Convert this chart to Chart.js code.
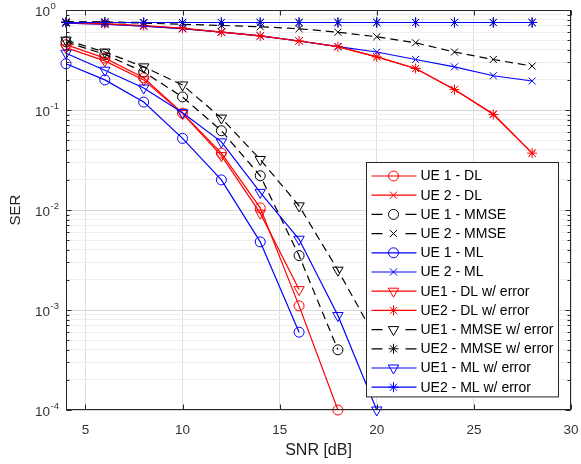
<!DOCTYPE html>
<html>
<head>
<meta charset="utf-8">
<script src="https://cdn.jsdelivr.net/npm/chart.js@4.4.1/dist/chart.umd.min.js"></script>
<style>
  html, body { margin: 0; padding: 0; background: #fff; }
  #serChart { display: block; }
</style>
</head>
<body>
<canvas id="serChart" width="581" height="464"></canvas>
<script>
// SNR points (dB) and tick values
const snrValues = [4, 6, 8, 10, 12, 14, 16, 18, 20, 22, 24, 26, 28];
const xTickValues = [5, 10, 15, 20, 25, 30];
const yDecades = [-4, -3, -2, -1, 0];

// SER per curve (null = no error observed, not plotted on log axis)
const ue1Dl = [0.45, 0.33, 0.21, 0.093, 0.037, 0.0105, 0.0011, 0.0001, null, null, null, null, null];
const ue2Dl = [0.74, 0.72, 0.69, 0.65, 0.60, 0.55, 0.49, 0.43, 0.34, 0.26, 0.16, 0.091, 0.037];
const ue1Mmse = [0.48, 0.36, 0.24, 0.135, 0.062, 0.022, 0.0035, 0.0004, null, null, null, null, null];
const ue2Mmse = [0.76, 0.75, 0.74, 0.72, 0.70, 0.68, 0.65, 0.60, 0.54, 0.47, 0.38, 0.32, 0.275];
const ue1Ml = [0.29, 0.20, 0.12, 0.052, 0.02, 0.0048, 0.0006, null, null, null, null, null, null];
const ue2Ml = [0.74, 0.72, 0.69, 0.65, 0.60, 0.55, 0.49, 0.43, 0.38, 0.32, 0.27, 0.22, 0.195];
const ue1DlErr = [0.42, 0.31, 0.20, 0.092, 0.035, 0.0093, 0.0016, null, null, null, null, null, null];
const ue2DlErr = [0.75, 0.73, 0.70, 0.66, 0.60, 0.55, 0.49, 0.43, 0.34, 0.26, 0.16, 0.09, 0.037];
const ue1MmseErr = [0.50, 0.38, 0.27, 0.178, 0.083, 0.032, 0.011, 0.0025, 0.0005, null, null, null, null];
const ue2MmseErr = [0.76, 0.76, 0.75, 0.75, 0.75, 0.75, 0.75, 0.75, 0.75, 0.75, 0.75, 0.75, 0.75];
const ue1MlErr = [0.37, 0.25, 0.166, 0.094, 0.048, 0.015, 0.0051, 0.00088, 0.0001, null, null, null, null];
const ue2MlErr = [0.75, 0.75, 0.75, 0.75, 0.75, 0.75, 0.75, 0.75, 0.75, 0.75, 0.75, 0.75, 0.75];

const FONT = "'Liberation Sans', Arial, Helvetica, sans-serif";
const RED = "#ff0000";
const BLUE = "#0000ff";
const BLACK = "#000000";

const markers = {
  o: { pointStyle: "circle", radius: 5, rotation: 0 },
  x: { pointStyle: "crossRot", radius: 5, rotation: 0 },
  "*": { pointStyle: "star", radius: 5, rotation: 0 },
  v: { pointStyle: "triangle", radius: 6, rotation: 180 },
};

function makeSeries(label, values, color, marker, dashed) {
  const m = markers[marker];
  return {
    label: label,
    data: snrValues.map(function (x, i) { return { x: x, y: values[i] }; }),
    borderColor: color,
    backgroundColor: "rgba(0,0,0,0)",
    borderWidth: 1.2,
    borderDash: dashed ? [8, 5] : [],
    pointStyle: m.pointStyle,
    pointRadius: m.radius,
    pointRotation: m.rotation,
    pointBorderWidth: 1,
    pointBackgroundColor: "rgba(0,0,0,0)",
    pointBorderColor: color,
    tension: 0,
    spanGaps: false,
    clip: false,
    _marker: marker,
    _dashed: dashed,
  };
}

const datasets = [
  makeSeries("UE 1 - DL", ue1Dl, RED, "o", false),
  makeSeries("UE 2 - DL", ue2Dl, RED, "x", false),
  makeSeries("UE 1 - MMSE", ue1Mmse, BLACK, "o", true),
  makeSeries("UE 2 - MMSE", ue2Mmse, BLACK, "x", true),
  makeSeries("UE 1 - ML", ue1Ml, BLUE, "o", false),
  makeSeries("UE 2 - ML", ue2Ml, BLUE, "x", false),
  makeSeries("UE1 - DL w/ error", ue1DlErr, RED, "v", false),
  makeSeries("UE2 - DL w/ error", ue2DlErr, RED, "*", false),
  makeSeries("UE1 - MMSE w/ error", ue1MmseErr, BLACK, "v", true),
  makeSeries("UE2 - MMSE w/ error", ue2MmseErr, BLACK, "*", true),
  makeSeries("UE1 - ML w/ error", ue1MlErr, BLUE, "v", false),
  makeSeries("UE2 - ML w/ error", ue2MlErr, BLUE, "*", false),
];
// later curves on top, like the original plot
datasets.forEach(function (d, i) { d.order = datasets.length - i; });

function isDecade(v) {
  const p = Math.log10(v);
  return Math.abs(p - Math.round(p)) < 1e-9;
}

function drawMarker(ctx, marker, x, y, color) {
  const m = markers[marker];
  const r = m.radius;
  ctx.save();
  ctx.setLineDash([]);
  ctx.strokeStyle = color;
  ctx.lineWidth = 1;
  ctx.beginPath();
  if (m.pointStyle === "circle") {
    ctx.arc(x, y, r, 0, Math.PI * 2);
  } else if (m.pointStyle === "triangle") {
    let a = m.rotation * Math.PI / 180;
    ctx.moveTo(x + Math.sin(a) * r, y - Math.cos(a) * r);
    for (let k = 0; k < 2; k++) {
      a += Math.PI * 2 / 3;
      ctx.lineTo(x + Math.sin(a) * r, y - Math.cos(a) * r);
    }
    ctx.closePath();
  } else {
    const d = Math.cos(Math.PI / 4) * r;
    ctx.moveTo(x - d, y - d); ctx.lineTo(x + d, y + d);
    ctx.moveTo(x - d, y + d); ctx.lineTo(x + d, y - d);
    if (m.pointStyle === "star") {
      ctx.moveTo(x - r, y); ctx.lineTo(x + r, y);
      ctx.moveTo(x, y - r); ctx.lineTo(x, y + r);
    }
  }
  ctx.stroke();
  ctx.restore();
}

// legend box in the lower right, drawn over the curves with a white fill
const boxLegend = {
  id: "boxLegend",
  afterDatasetsDraw(chart) {
    const ctx = chart.ctx;
    const area = chart.chartArea;
    const x0 = area.right - 12.5;
    const w = 192;
    const left = x0 - w;
    const top = 162.5;
    const rowH = 19.2;
    const h = rowH * datasets.length + 4;
    ctx.save();
    ctx.fillStyle = "#ffffff";
    ctx.fillRect(left, top, w, h);
    ctx.strokeStyle = "#262626";
    ctx.lineWidth = 1;
    ctx.setLineDash([]);
    ctx.strokeRect(left, top, w, h);
    ctx.font = "14px " + FONT;
    ctx.textBaseline = "middle";
    ctx.textAlign = "left";
    chart.data.datasets.forEach(function (d, i) {
      const y = top + 13.5 + i * rowH;
      const sx = left + 5;
      const mx = left + 27;
      const ex = left + 50;
      ctx.strokeStyle = d.borderColor;
      ctx.lineWidth = 1.2;
      ctx.beginPath();
      if (d._dashed) {
        ctx.moveTo(sx, y); ctx.lineTo(sx + 11, y);
        ctx.moveTo(ex - 11, y); ctx.lineTo(ex, y);
      } else {
        ctx.moveTo(sx, y); ctx.lineTo(ex, y);
      }
      ctx.stroke();
      drawMarker(ctx, d._marker, mx, y, d.borderColor);
      ctx.fillStyle = "#000000";
      ctx.fillText(d.label, left + 54, y + 0.5);
    });
    ctx.restore();
  },
  afterDraw(chart) {
    const ctx = chart.ctx;
    const a = chart.chartArea;
    const xs = chart.scales.x;
    const ys = chart.scales.y;
    const L = Math.round(a.left) + 0.5;
    const R = Math.round(a.right) - 0.5;
    const T = Math.round(a.top) + 0.5;
    const B = Math.round(a.bottom) - 0.5;
    ctx.save();
    ctx.strokeStyle = "#262626";
    ctx.lineWidth = 1;
    ctx.setLineDash([]);
    ctx.strokeRect(L, T, R - L, B - T);
    // inward ticks
    ctx.beginPath();
    xTickValues.forEach(function (v) {
      const px = Math.round(xs.getPixelForValue(v)) + 0.5;
      ctx.moveTo(px, B); ctx.lineTo(px, B - 5);
      ctx.moveTo(px, T); ctx.lineTo(px, T + 5);
    });
    ys.ticks.forEach(function (t) {
      const py = Math.round(ys.getPixelForValue(t.value)) + 0.5;
      const len = isDecade(t.value) ? 5 : 3;
      ctx.moveTo(L, py); ctx.lineTo(L + len, py);
      ctx.moveTo(R, py); ctx.lineTo(R - len, py);
    });
    ctx.stroke();
    // y tick labels as 10 with a raised exponent
    ctx.fillStyle = "#333333";
    ctx.textBaseline = "middle";
    yDecades.forEach(function (p) {
      const py = ys.getPixelForValue(Math.pow(10, p));
      ctx.font = "13.5px " + FONT;
      ctx.textAlign = "right";
      ctx.fillText("10", a.left - 16, py + 2.5);
      ctx.font = "9.5px " + FONT;
      ctx.textAlign = "left";
      ctx.fillText(String(p), a.left - 15.5, py - 3.5);
    });
    ctx.restore();
  },
};

const yTickValues = [];
yDecades.forEach(function (p) {
  if (p === 0) { yTickValues.push(1); return; }
  for (let k = 1; k <= 9; k++) yTickValues.push(k * Math.pow(10, p));
});

new Chart(document.getElementById("serChart").getContext("2d"), {
  type: "line",
  data: { datasets: datasets },
  options: {
    responsive: false,
    animation: false,
    events: [],
    layout: { autoPadding: false, padding: { top: 10, right: 10, left: 0, bottom: 0 } },
    plugins: {
      legend: { display: false },
      tooltip: { enabled: false },
    },
    scales: {
      x: {
        type: "linear",
        min: 4,
        max: 30,
        afterBuildTicks: function (scale) {
          scale.ticks = xTickValues.map(function (v) { return { value: v }; });
        },
        afterFit: function (scale) {
          scale.height = 54;
          scale.paddingLeft = 0;
          scale.paddingRight = 0;
        },
        grid: { color: "#dedede", lineWidth: 1, drawTicks: false },
        border: { display: false },
        ticks: {
          padding: 12,
          color: "#333333",
          font: { family: FONT, size: 13.5 },
          maxRotation: 0,
        },
        title: {
          display: true,
          text: "SNR [dB]",
          color: "#222222",
          font: { family: FONT, size: 16 },
          padding: { top: 0, bottom: 4 },
        },
      },
      y: {
        type: "logarithmic",
        min: 1e-4,
        max: 1,
        afterBuildTicks: function (scale) {
          scale.ticks = yTickValues.map(function (v) { return { value: v, major: isDecade(v) }; });
        },
        afterFit: function (scale) {
          scale.width = 66;
          scale.paddingTop = 0;
          scale.paddingBottom = 0;
        },
        grid: {
          color: function (c) { return c.tick && isDecade(c.tick.value) ? "#d8d8d8" : "#ededed"; },
          lineWidth: 1,
          drawTicks: false,
        },
        border: { display: false },
        ticks: { display: false },
        title: {
          display: true,
          text: "SER",
          color: "#222222",
          font: { family: FONT, size: 15 },
          padding: { top: 7, bottom: 0 },
        },
      },
    },
  },
  plugins: [boxLegend],
});
</script>
</body>
</html>
